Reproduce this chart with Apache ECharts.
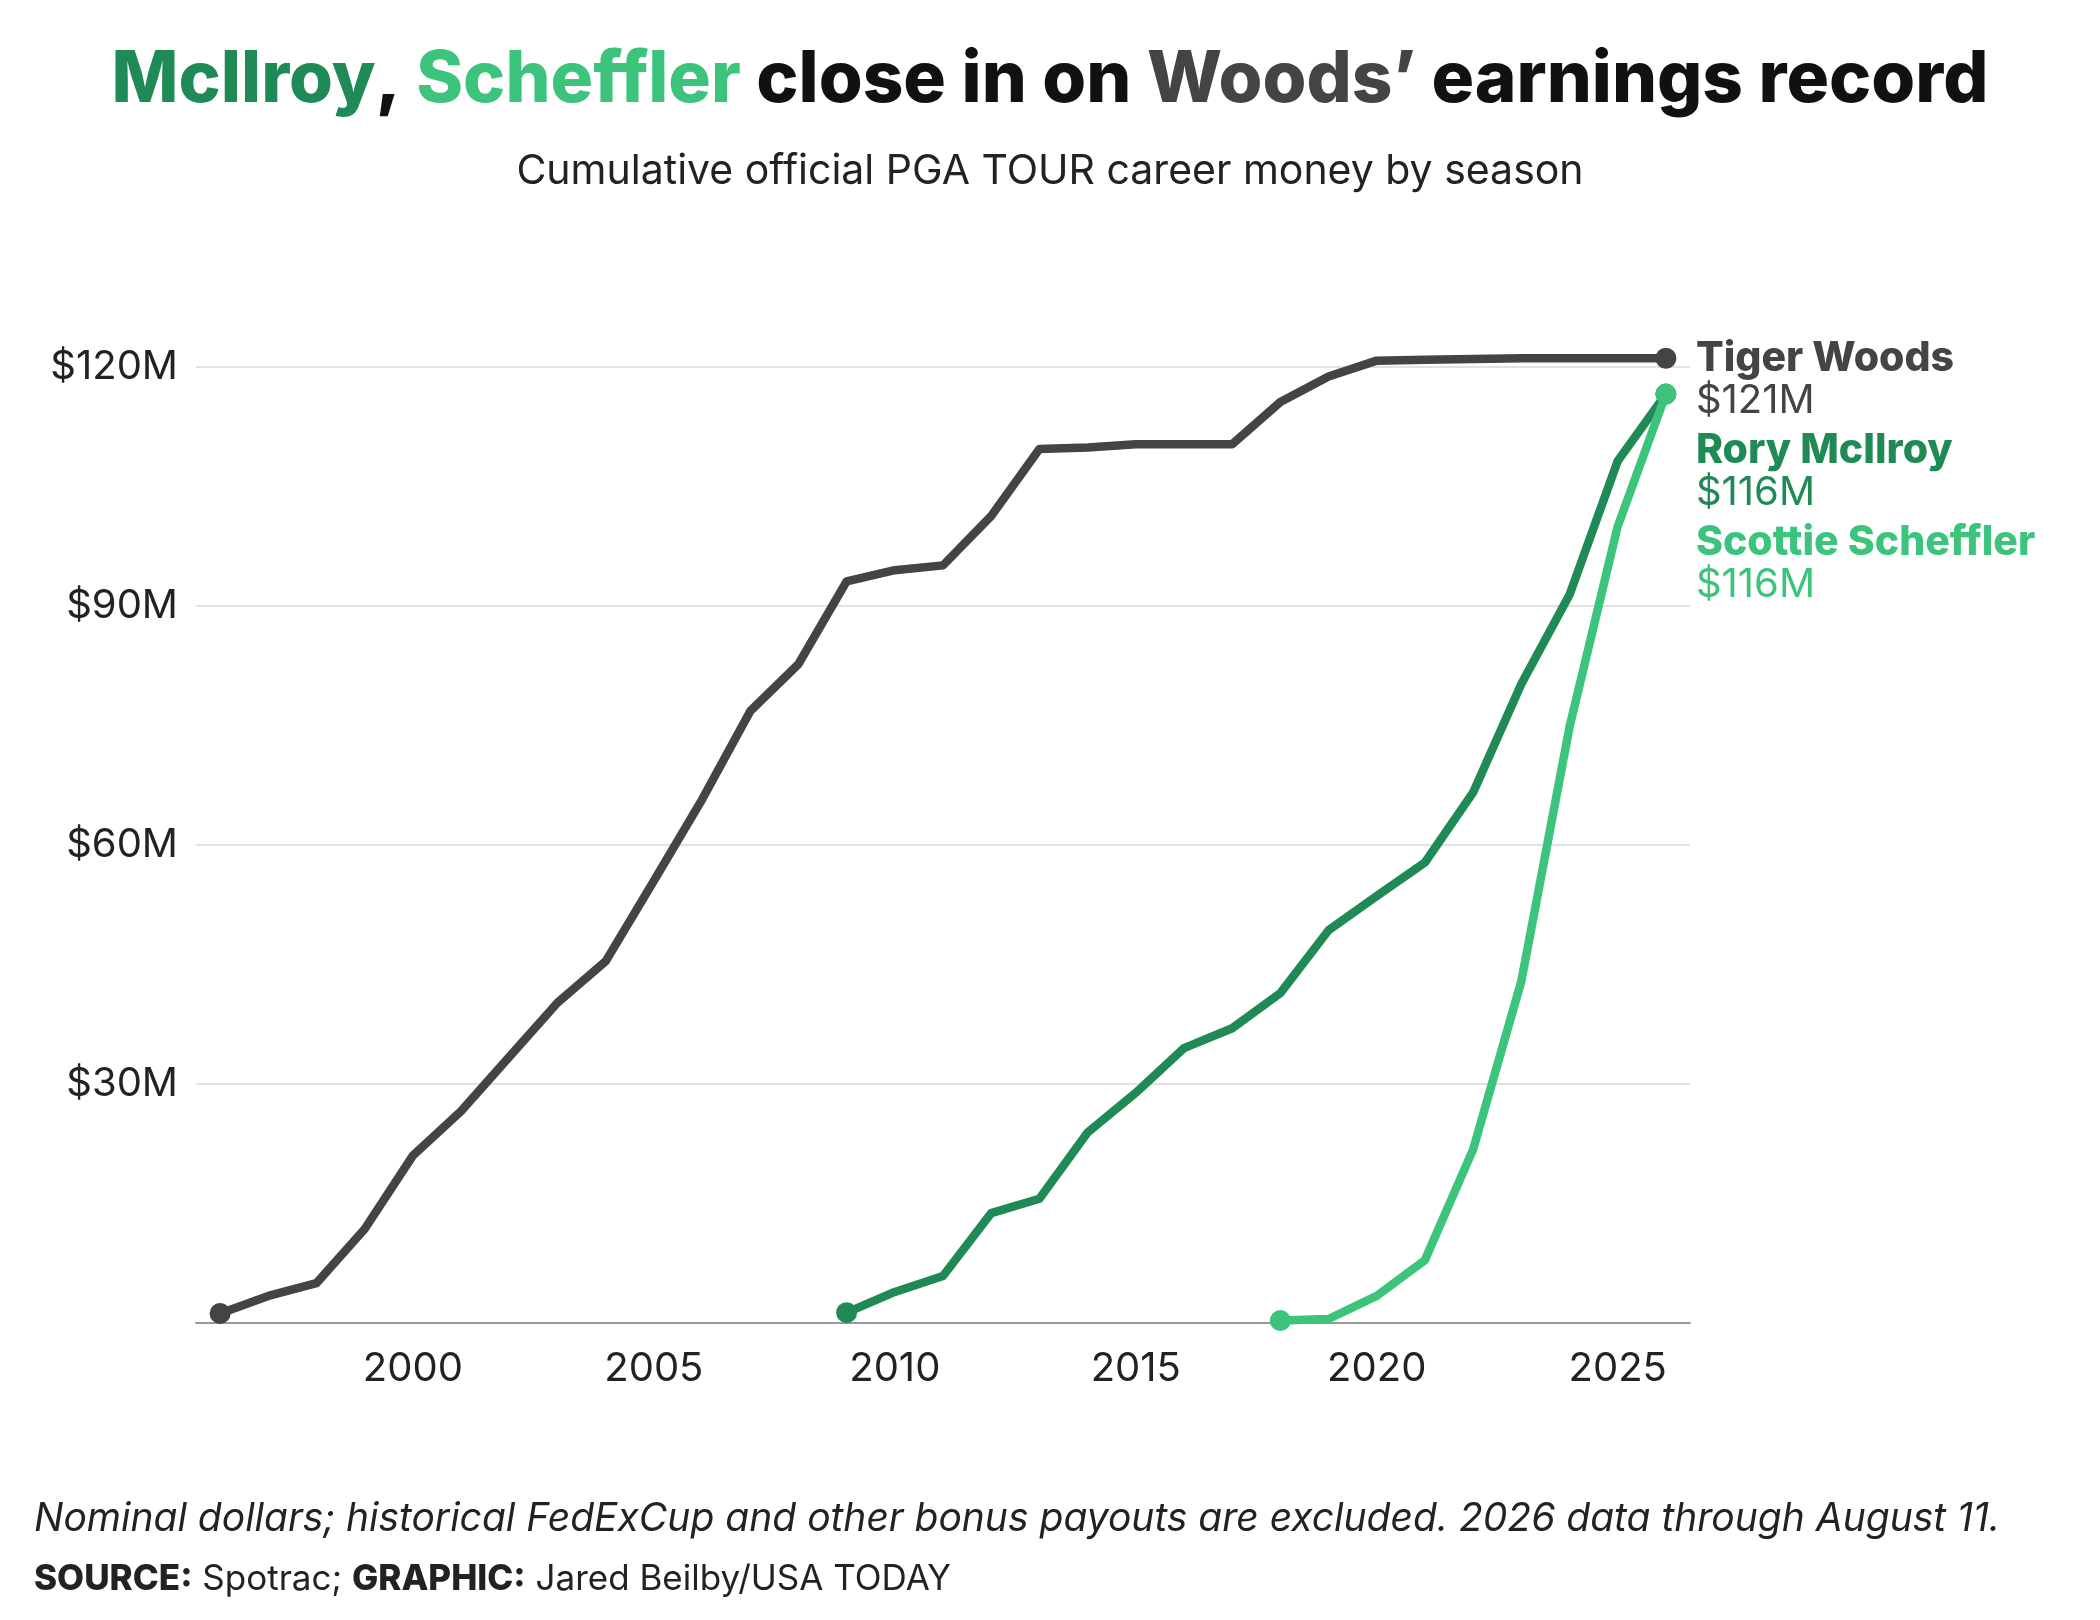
<!DOCTYPE html>
<html>
<head>
<meta charset="utf-8">
<script src="https://cdn.jsdelivr.net/npm/echarts@6/dist/echarts.min.js"></script>
<style>
  html, body { margin: 0; padding: 0; background: #fff; }
  #chart { width: 2100px; height: 1620px; }
</style>
</head>
<body>
<div id="chart"></div>
<script>
// data (millions of dollars, cumulative)
var tigerYears = [1996,1997,1998,1999,2000,2001,2002,2003,2004,2005,2006,2007,2008,2009,2010,2011,2012,2013,2014,2015,2016,2017,2018,2019,2020,2021,2022,2023,2024,2025,2026];
var tigerMoney = [1.2,3.4,5.0,11.8,21.0,26.6,33.4,40.2,45.4,55.5,65.7,76.8,82.7,93.1,94.5,95.1,101.3,109.7,109.9,110.3,110.3,110.3,115.6,118.8,120.8,120.9,121.0,121.1,121.1,121.1,121.1];
var roryYears = [2009,2010,2011,2012,2013,2014,2015,2016,2017,2018,2019,2020,2021,2022,2023,2024,2025,2026];
var roryMoney = [1.3,3.9,5.9,13.8,15.6,23.9,28.9,34.5,37.0,41.4,49.3,53.6,57.8,66.6,80.2,91.4,108.2,116.6];
var scottieYears = [2018,2019,2020,2021,2022,2023,2024,2025,2026];
var scottieMoney = [0.3,0.5,3.4,7.9,21.8,42.9,74.8,100.0,116.6];

var C_TIGER = '#444444', C_RORY = '#1f8a55', C_SCOTTIE = '#3cc47c';
var FONT = 'Inter, "Noto Sans", sans-serif';

function pairs(xs, ys) { return xs.map(function (x, i) { return [x, ys[i]]; }); }

function lineSeries(name, xs, ys, color) {
  var n = xs.length;
  return {
    name: name, type: 'line', data: pairs(xs, ys), clip: false,
    showAllSymbol: true,
    symbol: function (v, p) { return (p.dataIndex === 0 || p.dataIndex === n - 1) ? 'circle' : 'none'; },
    symbolSize: 21,
    itemStyle: { color: color },
    lineStyle: { color: color, width: 8.5, join: 'round' },
    emphasis: { disabled: true }
  };
}

var chart = echarts.init(document.getElementById('chart'));
chart.setOption({
  animation: false,
  backgroundColor: '#fff',
  grid: { left: 196, right: 410, top: 367, bottom: 297 },
  xAxis: {
    type: 'value', min: 1995.5, max: 2026.5, interval: 0.5,
    axisLine: { lineStyle: { color: '#999', width: 2 } },
    axisTick: { show: false },
    splitLine: { show: false },
    axisLabel: {
      margin: 26, fontSize: 40, color: '#222', fontFamily: FONT,
      formatter: function (v) { return v % 5 === 0 ? String(v) : ''; }
    }
  },
  yAxis: {
    type: 'value', min: 0, max: 120, interval: 30,
    axisLine: { show: false }, axisTick: { show: false },
    splitLine: { lineStyle: { color: '#e2e2e2', width: 2 } },
    axisLabel: {
      margin: 18, fontSize: 40, color: '#222', fontFamily: FONT,
      formatter: function (v) { return v === 0 ? '' : '$' + v + 'M'; }
    }
  },
  title: [
    {
      left: 'center', top: 40,
      text: '{r|McIlroy}{k|, }{s|Scheffler}{k| close in on }{t|Woods’}{k| earnings record}',
      textStyle: {
        rich: {
          r: { color: C_RORY, fontSize: 71, fontWeight: 800, fontFamily: FONT },
          s: { color: C_SCOTTIE, fontSize: 71, fontWeight: 800, fontFamily: FONT },
          t: { color: C_TIGER, fontSize: 71, fontWeight: 800, fontFamily: FONT },
          k: { color: '#111', fontSize: 71, fontWeight: 800, fontFamily: FONT }
        }
      }
    },
    {
      left: 'center', top: 146, text: 'Cumulative official PGA TOUR career money by season',
      textStyle: { fontSize: 41, fontWeight: 'normal', color: '#222', fontFamily: FONT }
    }
  ],
  series: [
    lineSeries('Tiger Woods', tigerYears, tigerMoney, C_TIGER),
    lineSeries('Rory McIlroy', roryYears, roryMoney, C_RORY),
    lineSeries('Scottie Scheffler', scottieYears, scottieMoney, C_SCOTTIE)
  ],
  graphic: [
    { type: 'text', left: 34, top: 1500, style: { text: 'Nominal dollars; historical FedExCup and other bonus payouts are excluded. 2026 data through August 11.', fontSize: 39, fontStyle: 'italic', fill: '#222', fontFamily: FONT } },
    { type: 'text', left: 34, top: 1562, style: {
      text: '{b|SOURCE:} Spotrac; {b|GRAPHIC:} Jared Beilby/USA TODAY',
      fontSize: 35, fill: '#222', fontFamily: FONT,
      rich: { b: { fontWeight: 800, fontSize: 35, fill: '#222', fontFamily: FONT } } } }
  ]
});

// end labels positioned from the chart's own scale
var tEnd = chart.convertToPixel({ gridIndex: 0 }, [tigerYears[tigerYears.length - 1], tigerMoney[tigerMoney.length - 1]]);
var lx = tEnd[0] + 30, ly = tEnd[1];
var labels = [
  ['Tiger Woods', '$121M', C_TIGER, 0],
  ['Rory McIlroy', '$116M', C_RORY, 92],
  ['Scottie Scheffler', '$116M', C_SCOTTIE, 184]
];
var g = [];
labels.forEach(function (l) {
  g.push({ type: 'text', x: lx, y: ly + l[3], style: { text: l[0], fontSize: 41, fontWeight: 800, fill: l[2], fontFamily: FONT, verticalAlign: 'middle' } });
  g.push({ type: 'text', x: lx, y: ly + l[3] + 43, style: { text: l[1], fontSize: 40, fill: l[2], fontFamily: FONT, verticalAlign: 'middle' } });
});
var opt = chart.getOption();
chart.setOption({ graphic: opt.graphic[0].elements.concat(g) });
</script>
</body>
</html>
